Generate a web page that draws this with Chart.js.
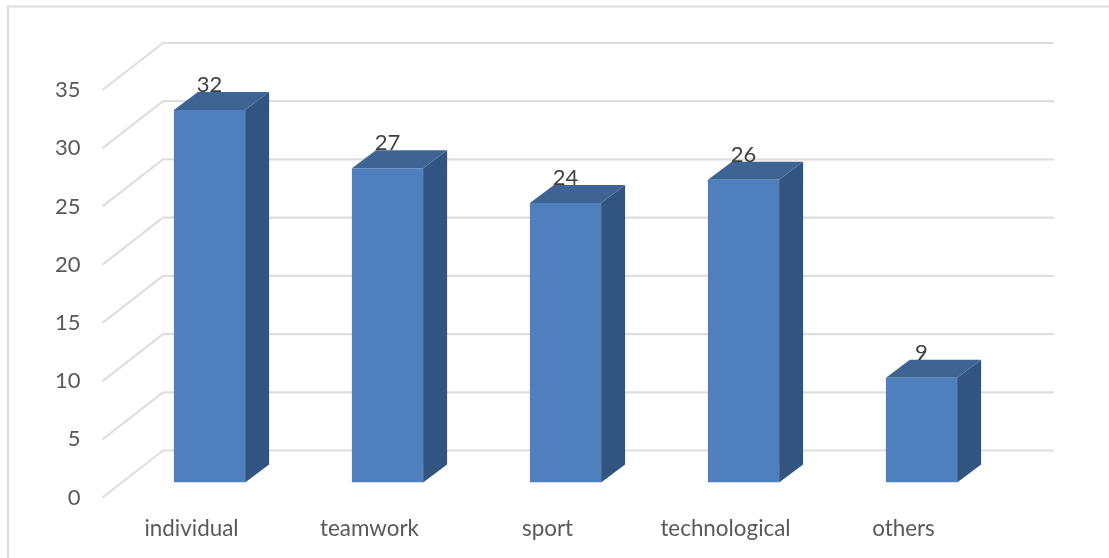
<!DOCTYPE html>
<html><head><meta charset="utf-8">
<style>html,body{margin:0;padding:0;background:#fff}canvas{display:block}</style>
<script src="https://cdn.jsdelivr.net/npm/chart.js@4"></script>
</head><body>
<canvas id="c" width="1109" height="558"></canvas>
<script>
const categories = ["individual","teamwork","sport","technological","others"];
const values = [32,27,24,26,9];
const yTickMax = 35, yTickStep = 5;

const depth = {dx:24, dy:18};
const wall = {backDy:32, frontDy:15, left:102.5, backX:163, right:1054};
const FONT = "Lato";

const scene = {
  id:"scene",
  beforeDraw(chart){
    const c = chart.ctx;
    c.save();
    c.strokeStyle="#dcdcdc"; c.lineWidth=2;
    c.beginPath(); c.moveTo(8,558); c.lineTo(8,6.5); c.lineTo(1109,6.5); c.stroke();
    c.restore();
  },
  beforeDatasetsDraw(chart){
    const c = chart.ctx, y = chart.scales.y;
    c.save();
    c.strokeStyle="#dedede"; c.lineWidth=2.2; c.lineJoin="miter";
    y.ticks.forEach(t=>{
      const p = y.getPixelForValue(t.value);
      c.beginPath();
      c.moveTo(wall.left,p+wall.frontDy);
      c.lineTo(wall.backX,p-wall.backDy);
      c.lineTo(wall.right,p-wall.backDy);
      c.stroke();
    });
    chart.getDatasetMeta(0).data.forEach(b=>{
      const l=b.x-b.width/2, r=b.x+b.width/2;
      c.fillStyle="#325480";
      c.beginPath(); c.moveTo(r,b.y); c.lineTo(r+depth.dx,b.y-depth.dy);
      c.lineTo(r+depth.dx,b.base-depth.dy); c.lineTo(r,b.base); c.closePath(); c.fill();
      c.fillStyle="#3d6493";
      c.beginPath(); c.moveTo(l,b.y); c.lineTo(l+depth.dx,b.y-depth.dy);
      c.lineTo(r+depth.dx,b.y-depth.dy); c.lineTo(r,b.y); c.closePath(); c.fill();
    });
    c.restore();
  },
  afterDatasetsDraw(chart){
    const c = chart.ctx;
    c.save();
    c.fillStyle="#404040"; c.font="22px "+FONT; c.textAlign="center"; c.textBaseline="middle";
    chart.getDatasetMeta(0).data.forEach((b,i)=>{
      c.fillText(String(values[i]), b.x, b.y-25);
    });
    c.restore();
  }
};

new Chart(document.getElementById("c"),{
  type:"bar",
  data:{labels:categories,datasets:[{data:values,backgroundColor:"#4f80bd",barPercentage:0.4,categoryPercentage:1}]},
  plugins:[scene],
  options:{
    responsive:false,animation:false,
    layout:{padding:{left:0,right:98.5,top:75,bottom:0}},
    plugins:{legend:{display:false},tooltip:{enabled:false}},
    scales:{
      x:{grid:{display:false},border:{display:false},
         afterFit(s){s.height=75.5;},
         ticks:{color:"#595959",font:{family:FONT,size:22.4},padding:25,labelOffset:-18,maxRotation:0,autoSkip:false}},
      y:{min:0,max:yTickMax,grid:{display:false},border:{display:false},
         afterFit(s){s.width=120.5;},
         ticks:{stepSize:yTickStep,color:"#595959",font:{family:FONT,size:22},padding:32,labelOffset:15}}
    }
  }
});
</script>
</body></html>
